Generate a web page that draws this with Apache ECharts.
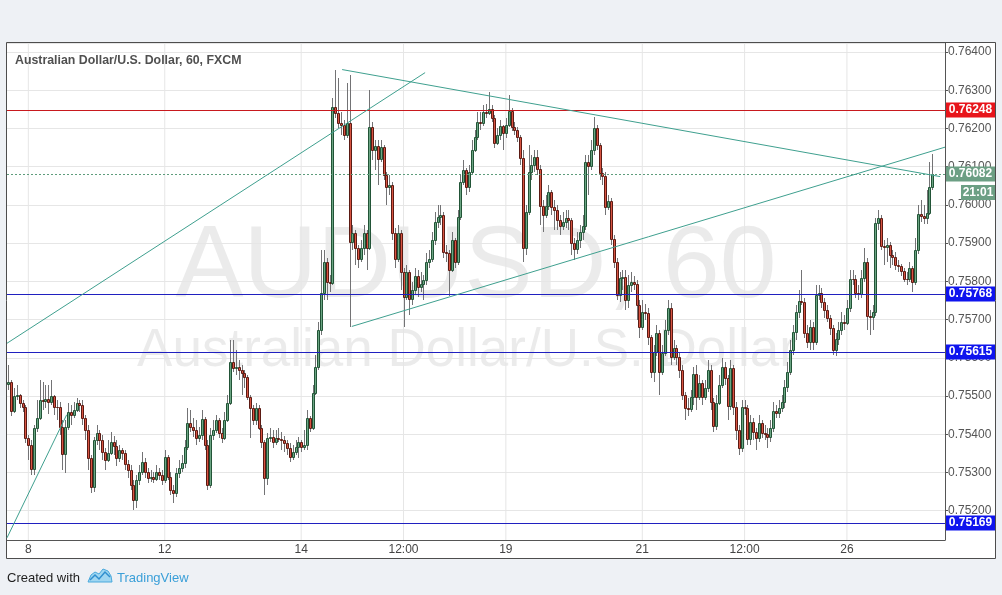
<!DOCTYPE html>
<html><head><meta charset="utf-8">
<script src="https://cdn.jsdelivr.net/npm/echarts@6/dist/echarts.min.js"></script>
<style>html,body{margin:0;padding:0;background:#eef1f5;}#c{width:1002px;height:595px;}</style>
</head><body><div id="c"></div>
<script>
// ---------- data (AUD/USD, 60 min, FXCM) ----------
const opens = [
.75532,.75537,.75460,.75500,.75503,.75482,.75472,.75390,.75372,.75309,
.75416,.75442,.75490,.75488,.75492,.75485,.75500,.75472,.75470,.75419,
.75349,.75419,.75458,.75450,.75463,.75482,.75477,.75442,.75411,.75338,
.75262,.75385,.75403,.75385,.75354,.75333,.75351,.75380,.75369,.75338,
.75359,.75351,.75322,.75306,.75267,.75228,.75280,.75301,.75328,.75301,
.75285,.75288,.75283,.75301,.75293,.75280,.75341,.75288,.75254,.75246,
.75298,.75312,.75325,.75367,.75430,.75419,.75411,.75390,.75398,.75440,
.75372,.75267,.75398,.75411,.75437,.75403,.75390,.75437,.75482,.75589,
.75573,.75576,.75568,.75560,.75550,.75498,.75469,.75437,.75469,.75416,
.75380,.75285,.75390,.75393,.75380,.75390,.75388,.75385,.75377,.75364,
.75341,.75354,.75367,.75380,.75367,.75372,.75442,.75416,.75508,.75576,
.75673,.75770,.75851,.75799,.75796,.76257,.76241,.76215,.76210,.76184,
.76215,.75903,.75927,.75888,.75859,.75888,.75927,.75888,.76205,.76144,
.76155,.76121,.76152,.76079,.76048,.76053,.75927,.75859,.75927,.75825,
.75759,.75825,.75754,.75778,.75814,.75786,.75794,.75804,.75851,.75859,
.75909,.75956,.75969,.75974,.75877,.75875,.75830,.75909,.75851,.75969,
.76061,.76092,.76048,.76087,.76144,.76178,.76218,.76215,.76244,.76241,
.76252,.76228,.76163,.76184,.76207,.76189,.76210,.76246,.76205,.76197,
.76178,.76123,.75888,.75982,.76087,.76105,.76126,.76095,.75998,.75974,
.75998,.76035,.75995,.75987,.75961,.75945,.75956,.75966,.75961,.75901,
.75885,.75909,.75930,.75945,.76113,.76102,.76144,.76202,.76157,.76084,
.76076,.75995,.76011,.75912,.75851,.75765,.75809,.75812,.75752,.75791,
.75799,.75794,.75738,.75681,.75720,.75718,.75655,.75563,.75615,.75665,
.75563,.75613,.75673,.75731,.75602,.75626,.75602,.75568,.75503,.75469,
.75467,.75498,.75558,.75498,.75534,.75498,.75521,.75568,.75485,.75422,
.75482,.75529,.75576,.75547,.75474,.75573,.75472,.75411,.75364,.75472,
.75469,.75388,.75432,.75406,.75390,.75430,.75403,.75401,.75393,.75416,
.75460,.75455,.75469,.75485,.75524,.75563,.75621,.75668,.75720,.75749,
.75747,.75665,.75642,.75681,.75642,.75765,.75770,.75746,.75725,.75705,
.75678,.75621,.75650,.75673,.75694,.75692,.75731,.75807,.75805,.75770,
.75768,.75809,.75851,.75710,.75707,.75720,.75953,.75966,.75893,.75891,
.75896,.75869,.75864,.75843,.75841,.75828,.75807,.75805,.75835,.75799,
.75882,.75977,.75971,.75966,.75979,.76048];
const closes = [
.75537,.75460,.75500,.75503,.75482,.75472,.75390,.75372,.75309,.75416,
.75442,.75490,.75488,.75492,.75485,.75500,.75472,.75470,.75419,.75349,
.75419,.75458,.75450,.75463,.75482,.75477,.75442,.75411,.75338,.75262,
.75385,.75403,.75385,.75354,.75333,.75351,.75380,.75369,.75338,.75359,
.75351,.75322,.75306,.75267,.75228,.75280,.75301,.75328,.75301,.75285,
.75288,.75283,.75301,.75293,.75280,.75341,.75288,.75254,.75246,.75298,
.75312,.75325,.75367,.75430,.75419,.75411,.75390,.75398,.75440,.75372,
.75267,.75398,.75411,.75437,.75403,.75390,.75437,.75482,.75589,.75573,
.75576,.75568,.75560,.75550,.75498,.75469,.75437,.75469,.75416,.75380,
.75285,.75390,.75393,.75380,.75390,.75388,.75385,.75377,.75364,.75341,
.75354,.75367,.75380,.75367,.75372,.75442,.75416,.75508,.75576,.75673,
.75770,.75851,.75799,.75796,.76257,.76241,.76215,.76210,.76184,.76215,
.75903,.75927,.75888,.75859,.75888,.75927,.75888,.76205,.76144,.76155,
.76121,.76152,.76079,.76048,.76053,.75927,.75859,.75927,.75825,.75759,
.75825,.75754,.75778,.75814,.75786,.75794,.75804,.75851,.75859,.75909,
.75956,.75969,.75974,.75877,.75875,.75830,.75909,.75851,.75969,.76061,
.76092,.76048,.76087,.76144,.76178,.76218,.76215,.76244,.76241,.76252,
.76228,.76163,.76184,.76207,.76189,.76210,.76246,.76205,.76197,.76178,
.76123,.75888,.75982,.76087,.76105,.76126,.76095,.75998,.75974,.75998,
.76035,.75995,.75987,.75961,.75945,.75956,.75966,.75961,.75901,.75885,
.75909,.75930,.75945,.76113,.76102,.76144,.76202,.76157,.76084,.76076,
.75995,.76011,.75912,.75851,.75765,.75809,.75812,.75752,.75791,.75799,
.75794,.75738,.75681,.75720,.75718,.75655,.75563,.75615,.75665,.75563,
.75613,.75673,.75731,.75602,.75626,.75602,.75568,.75503,.75469,.75467,
.75498,.75558,.75498,.75534,.75498,.75521,.75568,.75485,.75422,.75482,
.75529,.75576,.75547,.75474,.75573,.75472,.75411,.75364,.75472,.75469,
.75388,.75432,.75406,.75390,.75430,.75403,.75401,.75393,.75416,.75460,
.75455,.75469,.75485,.75524,.75563,.75621,.75668,.75720,.75749,.75747,
.75665,.75642,.75681,.75642,.75765,.75770,.75746,.75725,.75705,.75678,
.75621,.75650,.75673,.75694,.75692,.75731,.75807,.75805,.75770,.75768,
.75809,.75851,.75710,.75707,.75720,.75953,.75966,.75893,.75891,.75896,
.75869,.75864,.75843,.75841,.75828,.75807,.75805,.75835,.75799,.75882,
.75977,.75971,.75966,.75979,.76048,.76082];
const highs = [
.75581,.75542,.75521,.75529,.75506,.75490,.75477,.75398,.75385,.75424,
.75490,.75542,.75537,.75529,.75529,.75542,.75503,.75490,.75485,.75437,
.75437,.75482,.75477,.75485,.75495,.75490,.75490,.75450,.75424,.75346,
.75393,.75424,.75411,.75398,.75364,.75385,.75406,.75396,.75385,.75372,
.75364,.75359,.75333,.75320,.75280,.75293,.75320,.75354,.75338,.75312,
.75306,.75301,.75320,.75312,.75306,.75359,.75346,.75301,.75267,.75312,
.75333,.75346,.75385,.75469,.75463,.75442,.75437,.75419,.75463,.75445,
.75385,.75416,.75437,.75450,.75442,.75416,.75458,.75503,.75647,.75647,
.75621,.75594,.75581,.75568,.75555,.75503,.75477,.75482,.75477,.75424,
.75385,.75403,.75416,.75411,.75411,.75416,.75406,.75396,.75385,.75377,
.75372,.75385,.75393,.75385,.75411,.75463,.75448,.75529,.75607,.75694,
.75882,.75882,.75862,.75817,.76280,.76354,.76333,.76244,.76223,.76320,
.76341,.75948,.75935,.75896,.75909,.75948,.75935,.76301,.76218,.76170,
.76170,.76170,.76157,.76087,.76079,.76061,.75940,.75948,.75935,.75835,
.75843,.75830,.75799,.75835,.75830,.75825,.75817,.75875,.75882,.75930,
.75982,.76000,.76000,.75982,.75896,.75882,.75930,.75914,.75987,.76079,
.76118,.76097,.76105,.76170,.76197,.76244,.76244,.76262,.76265,.76296,
.76262,.76236,.76202,.76223,.76210,.76228,.76288,.76254,.76218,.76205,
.76184,.76144,.76000,.76157,.76131,.76144,.76144,.76105,.76013,.76027,
.76053,.76040,.76013,.76000,.75974,.75982,.75987,.75987,.75966,.75914,
.75930,.75948,.75974,.76131,.76131,.76170,.76231,.76210,.76163,.76097,
.76087,.76027,.76019,.75922,.75862,.75825,.75830,.75830,.75817,.75825,
.75814,.75804,.75752,.75752,.75741,.75731,.75660,.75634,.75686,.75673,
.75634,.75699,.75752,.75744,.75647,.75634,.75615,.75581,.75511,.75495,
.75516,.75576,.75581,.75555,.75542,.75542,.75594,.75581,.75495,.75503,
.75555,.75600,.75589,.75555,.75594,.75581,.75485,.75424,.75490,.75490,
.75477,.75450,.75442,.75416,.75450,.75437,.75424,.75416,.75437,.75485,
.75477,.75490,.75503,.75542,.75589,.75647,.75686,.75738,.75778,.75830,
.75757,.75686,.75699,.75694,.75791,.75791,.75783,.75757,.75738,.75712,
.75686,.75665,.75694,.75720,.75712,.75752,.75830,.75830,.75817,.75791,
.75830,.75888,.75862,.75725,.75738,.75966,.75987,.75974,.75909,.75914,
.75903,.75882,.75877,.75856,.75846,.75835,.75825,.75851,.75841,.75914,
.76000,.76013,.76000,.76040,.76113,.76134];
const lows = [
.75516,.75448,.75455,.75490,.75469,.75458,.75377,.75333,.75293,.75293,
.75406,.75437,.75463,.75469,.75453,.75477,.75450,.75437,.75398,.75306,
.75298,.75411,.75424,.75442,.75458,.75458,.75424,.75385,.75306,.75246,
.75249,.75372,.75359,.75333,.75306,.75328,.75346,.75346,.75317,.75328,
.75333,.75306,.75285,.75254,.75202,.75207,.75267,.75293,.75285,.75272,
.75275,.75272,.75278,.75280,.75267,.75272,.75280,.75241,.75220,.75236,
.75285,.75301,.75312,.75359,.75406,.75393,.75372,.75380,.75385,.75359,
.75254,.75259,.75385,.75403,.75390,.75377,.75385,.75432,.75477,.75563,
.75555,.75542,.75503,.75521,.75490,.75390,.75424,.75424,.75411,.75364,
.75241,.75267,.75380,.75364,.75372,.75380,.75359,.75354,.75346,.75328,
.75333,.75346,.75338,.75354,.75359,.75359,.75406,.75411,.75503,.75568,
.75660,.75752,.75752,.75773,.75791,.76228,.76202,.76184,.76170,.76176,
.75681,.75882,.75843,.75835,.75851,.75869,.75830,.75882,.76118,.76092,
.76053,.76113,.76066,.76000,.76027,.75909,.75835,.75851,.75778,.75681,
.75752,.75712,.75738,.75765,.75760,.75773,.75752,.75791,.75835,.75851,
.75896,.75940,.75948,.75862,.75851,.75762,.75825,.75835,.75843,.75961,
.76053,.76027,.76035,.76079,.76139,.76170,.76197,.76207,.76228,.76236,
.76218,.76150,.76157,.76170,.76144,.76176,.76205,.76192,.76184,.76165,
.76105,.75851,.75869,.75974,.76066,.76087,.76079,.75948,.75930,.75966,
.75987,.75974,.75935,.75935,.75922,.75935,.75940,.75935,.75869,.75856,
.75872,.75888,.75909,.75935,.76027,.76092,.76131,.76144,.76066,.76053,
.75974,.75987,.75896,.75835,.75752,.75746,.75778,.75725,.75731,.75773,
.75778,.75699,.75652,.75673,.75699,.75634,.75547,.75537,.75605,.75503,
.75555,.75605,.75660,.75581,.75594,.75581,.75547,.75490,.75437,.75448,
.75458,.75477,.75463,.75490,.75477,.75490,.75511,.75463,.75406,.75411,
.75477,.75521,.75529,.75437,.75463,.75450,.75385,.75346,.75354,.75450,
.75372,.75372,.75385,.75359,.75380,.75390,.75385,.75364,.75380,.75406,
.75442,.75442,.75458,.75469,.75511,.75555,.75607,.75647,.75705,.75738,
.75652,.75626,.75621,.75621,.75634,.75752,.75731,.75705,.75694,.75660,
.75607,.75605,.75634,.75660,.75673,.75686,.75720,.75791,.75757,.75752,
.75757,.75799,.75673,.75660,.75673,.75710,.75935,.75882,.75843,.75851,
.75835,.75843,.75830,.75825,.75814,.75799,.75791,.75799,.75773,.75791,
.75872,.75956,.75951,.75951,.75974,.76040];

const slotCount = 330;                       // hourly slots across the visible window
const timeTickIdx  = [7, 55, 103, 139, 175, 223, 259, 295];
const timeTickText = ['8', '12', '14', '12:00', '19', '21', '12:00', '26'];
const priceMin = 0.751233, priceMax = 0.764235;
const resistanceLevels = [0.76248];
const supportLevels = [0.75768, 0.75615, 0.75169];
const lastPrice = 0.76082;
const countdownText = '21:01';
const trendUpperLeft  = [[-0.5, 0.75638], [146.6, 0.76346]];
const trendFalling    = [[117.4, 0.76354], [327.8, 0.76074]];
const trendRising     = [[120.8, 0.75682], [329.5, 0.76151]];
const trendLowerLeft  = [[-0.5, 0.75129], [20.5, 0.75451]];
const titleText = 'Australian Dollar/U.S. Dollar, 60, FXCM';
const watermarkSymbol = 'AUDUSD, 60';
const watermarkName = 'Australian Dollar/U.S. Dollar';

// ---------- chart ----------
const SANS = "'Liberation Sans',Arial,sans-serif";
const UP = '#6ba583', UPB = '#225437', DN = '#d75442', DNB = '#5b1a13', WICK = '#737375';
const TREND = '#3fa08f';

const cats = Array.from({length: slotCount}, (_, i) => String(i));
const tickMap = {};
timeTickIdx.forEach((k, i) => { tickMap[k] = timeTickText[i]; });
const candleData = opens.map((o, i) => [i, o, closes[i], lows[i], highs[i]]);
const isMajor = v => Math.abs(v * 1000 - Math.round(v * 1000)) < 1e-6;
const xLo = -0.5, xHi = slotCount - 0.5;

const chart = echarts.init(document.getElementById('c'));

function lineSeries(data, color, type, z) {
  return {type: 'line', xAxisIndex: 1, yAxisIndex: 0, data: data, symbol: 'none', silent: true,
    z: z, lineStyle: {color: color, width: 1, type: type || 'solid'}, animation: false};
}
// crisp full-width horizontal level line, placed through the y scale
function levelSeries(value, color, dash, z) {
  return {type: 'custom', xAxisIndex: 1, yAxisIndex: 0, z: z, silent: true, clip: false,
    data: [[0, value]], encode: {x: 0, y: 1},
    renderItem: function (params, api) {
      const p = api.coord([api.value(0), api.value(1)]);
      const cs = params.coordSys;
      const y = Math.round(p[1]) + 0.5;
      return {type: 'line', shape: {x1: cs.x, y1: y, x2: cs.x + cs.width, y2: y},
              style: {stroke: color, lineWidth: 1, lineDash: dash || null, opacity: 1}};
    }};
}

const series = [];
timeTickIdx.forEach(k => series.push(lineSeries([[k, priceMin], [k, priceMax]], '#e6e6e6', 'solid', 0)));
series.push({type: 'custom', name: 'AUDUSD', xAxisIndex: 0, yAxisIndex: 0, data: candleData, z: 2,
  encode: {x: 0, y: [1, 2, 3, 4]}, clip: true,
  renderItem: function (params, api) {
    const k = api.value(0), o = api.value(1), c = api.value(2), l = api.value(3), h = api.value(4);
    const po = api.coord([k, o]), pc = api.coord([k, c]), pl = api.coord([k, l]), ph = api.coord([k, h]);
    const x = Math.round(po[0]);
    const up = c >= o;
    const top = Math.round(Math.min(po[1], pc[1])), bot = Math.round(Math.max(po[1], pc[1]));
    return {type: 'group', children: [
      {type: 'line', shape: {x1: x + 0.5, y1: Math.round(ph[1]), x2: x + 0.5, y2: Math.round(pl[1])},
       style: {stroke: WICK, lineWidth: 1}},
      {type: 'rect', shape: {x: x - 0.5, y: top + 0.5, width: 2, height: Math.max(bot - top, 0)},
       style: {fill: up ? UP : DN, stroke: up ? UPB : DNB, lineWidth: 1}}
    ]};
  }});
resistanceLevels.forEach(v => series.push(levelSeries(v, '#c8191e', null, 3)));
supportLevels.forEach(v => series.push(levelSeries(v, '#2020c0', null, 3)));
series.push(levelSeries(lastPrice, '#5e9c7c', [2, 2], 3));
[trendUpperLeft, trendFalling, trendRising, trendLowerLeft].forEach(t => series.push(lineSeries(t, TREND, 'solid', 4)));

const option = {
  animation: false,
  backgroundColor: '#eef1f5',
  grid: {left: 7, right: 57, top: 43, bottom: 55, show: false},
  xAxis: [
    {type: 'category', data: cats, boundaryGap: true,
     axisLine: {show: true, onZero: false, lineStyle: {color: '#555', width: 1}},
     axisTick: {show: false},
     axisLabel: {interval: (i) => tickMap[i] !== undefined, formatter: (v, i) => tickMap[i] || '',
                 color: '#444', fontSize: 12, fontFamily: SANS, margin: 4},
     splitLine: {show: false}},
    {type: 'value', min: xLo, max: xHi, show: false, axisLine: {show: false, onZero: false}}
  ],
  yAxis: [{type: 'value', position: 'right', min: priceMin, max: priceMax, splitNumber: 13,
    axisLine: {show: true, onZero: false, lineStyle: {color: '#555'}},
    axisTick: {show: true, length: 3, lineStyle: {color: '#555'}},
    axisLabel: {showMinLabel: false, showMaxLabel: false, formatter: v => isMajor(v) ? v.toFixed(5) : '',
                color: '#555', fontSize: 12, fontFamily: SANS, margin: 3},
    splitLine: {show: true, lineStyle: {color: '#e6e6e6'}}}],
  series: series,
  graphic: [
    {type: 'rect', z: -10, shape: {x: 6.5, y: 42.5, width: 989, height: 516}, style: {fill: '#ffffff', stroke: '#4d4d4d', lineWidth: 1}},
    {type: 'text', z: -5, x: 476, y: 269, style: {text: watermarkSymbol, font: '102px ' + SANS, fill: 'rgba(120,120,120,0.15)', align: 'center', verticalAlign: 'middle'}},
    {type: 'text', z: -5, x: 467, y: 351, style: {text: watermarkName, font: '53px ' + SANS, fill: 'rgba(120,120,120,0.15)', align: 'center', verticalAlign: 'middle'}},
    {type: 'text', z: 10, x: 15, y: 60, scaleX: 0.95, style: {text: titleText, font: 'bold 13px ' + SANS, fill: '#505050', verticalAlign: 'middle'}},
    {type: 'text', z: 10, x: 7, y: 578, style: {text: 'Created with', font: '13px ' + SANS, fill: '#1e1e1e', verticalAlign: 'middle'}},
    {type: 'polygon', z: 10, shape: {points: [[88, 582], [91, 575], [95, 572], [99, 574], [103, 569], [108, 571], [111, 576], [112, 582]]},
     style: {fill: '#9fd6f1', stroke: '#49a9dc', lineWidth: 1}},
    {type: 'polyline', z: 11, shape: {points: [[90, 580], [95, 575], [99, 579], [105, 572], [110, 577]]},
     style: {stroke: '#2f8fcf', lineWidth: 1.5, fill: null}},
    {type: 'text', z: 10, x: 117, y: 578, style: {text: 'TradingView', font: '13px ' + SANS, fill: '#3a9fd8', verticalAlign: 'middle'}}
  ]
};
chart.setOption(option);

// price tags on the price scale, positioned through the chart's own y scale
const yPix = v => chart.convertToPixel({yAxisIndex: 0}, v);
const tagDefs = [];
resistanceLevels.forEach(v => tagDefs.push({v: v, bg: '#e8151b'}));
supportLevels.forEach(v => tagDefs.push({v: v, bg: '#0f14ee'}));
tagDefs.push({v: lastPrice, bg: '#6c9f84'});
const extra = [];
tagDefs.forEach((t, i) => {
  const y = Math.round(yPix(t.v));
  extra.push({type: 'rect', id: 'tagr' + i, z: 20, shape: {x: 946, y: y - 7.5, width: 49, height: 15}, style: {fill: t.bg}});
  extra.push({type: 'text', id: 'tagt' + i, z: 21, x: 970.5, y: y, style: {text: t.v.toFixed(5), font: 'bold 12px ' + SANS, fill: '#ffffff', align: 'center', verticalAlign: 'middle'}});
});
const yl = Math.round(yPix(lastPrice));
extra.push({type: 'rect', id: 'cdr', z: 20, shape: {x: 961, y: yl + 11, width: 34, height: 15}, style: {fill: '#6c9f84'}});
extra.push({type: 'text', id: 'cdt', z: 21, x: 978, y: yl + 18.5, style: {text: countdownText, font: 'bold 12px ' + SANS, fill: '#ffffff', align: 'center', verticalAlign: 'middle'}});
chart.setOption({graphic: option.graphic.concat(extra)});
</script></body></html>
